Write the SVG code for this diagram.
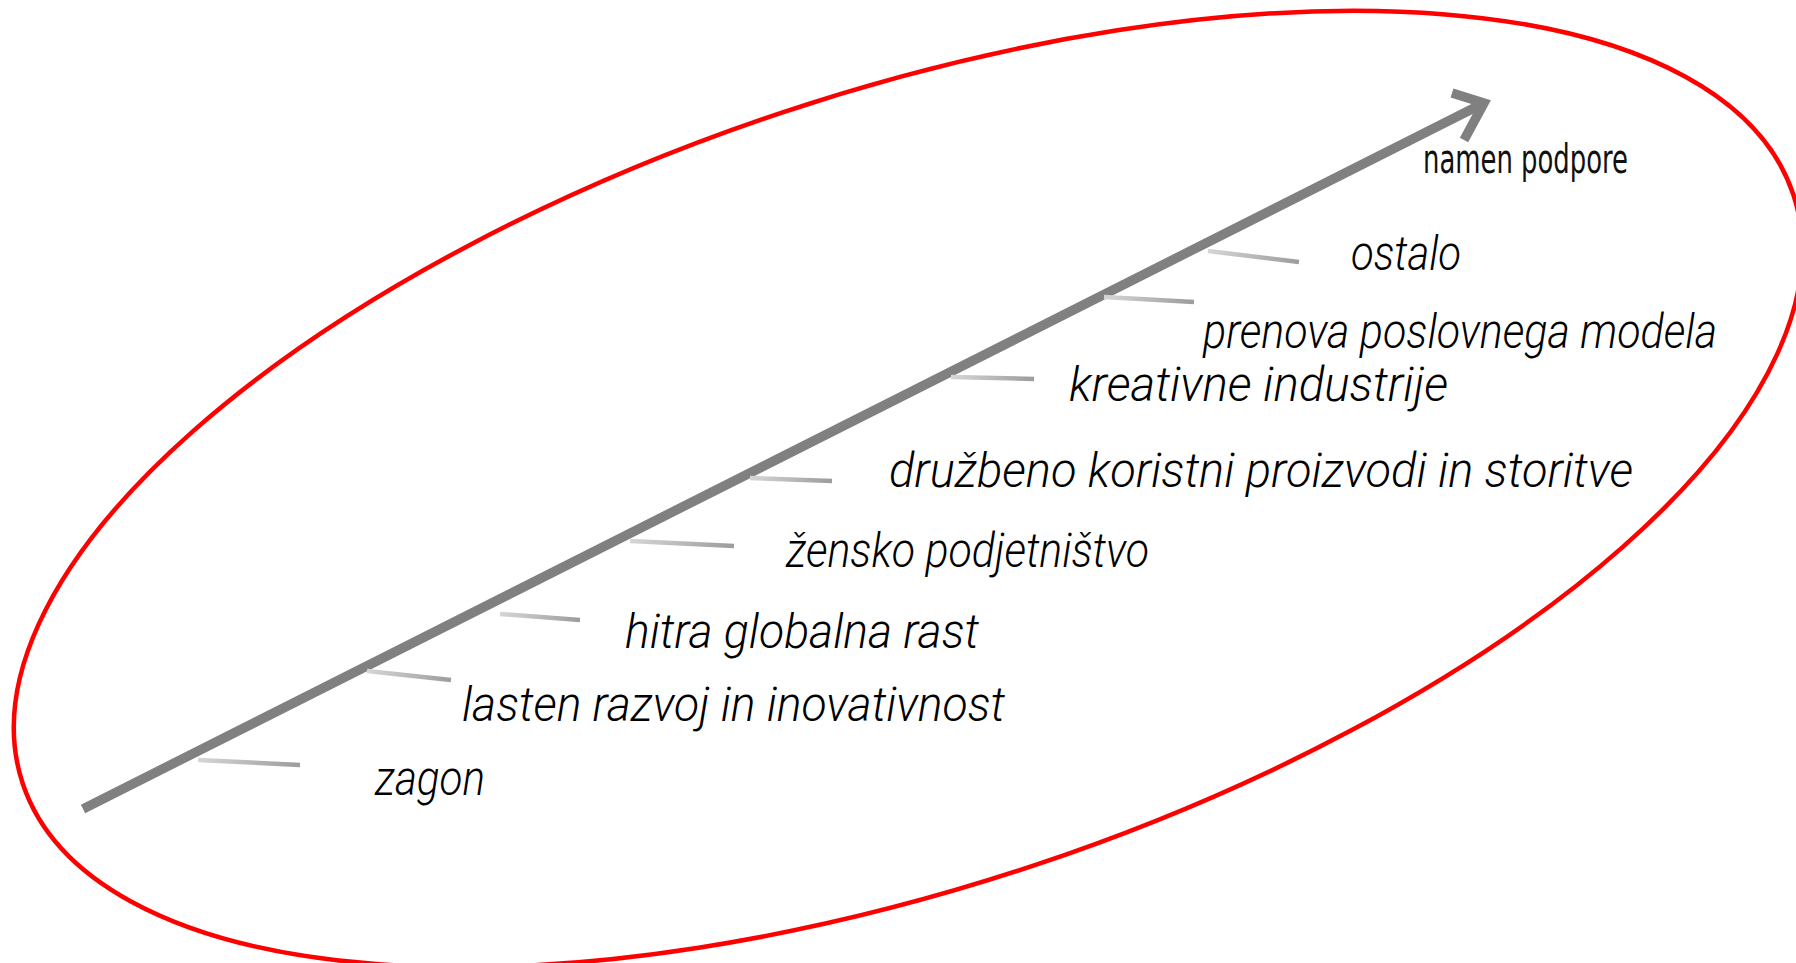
<svg xmlns="http://www.w3.org/2000/svg" width="1796" height="963" viewBox="0 0 1796 963">
<style>
.hand{font-family:Roboto,"DejaVu Sans Condensed","Liberation Sans",sans-serif;font-style:italic;font-weight:300;font-size:48px;fill:#000}
.title{font-family:"DejaVu Sans Condensed","Liberation Sans Narrow","Liberation Sans",sans-serif;font-size:40px;fill:#111}
.tick{stroke:url(#tg);stroke-width:4.5;fill:none}
.axis{stroke:#808080;stroke-width:9.5;fill:none;stroke-linecap:butt}
</style>
<defs>
<linearGradient id="tg" x1="0" y1="0" x2="1" y2="0">
<stop offset="0" stop-color="#d6d6d6"/>
<stop offset="1" stop-color="#9c9c9c"/>
</linearGradient>
</defs>
<rect width="1796" height="963" fill="#fff"/>
<g id="frame">
<ellipse cx="908" cy="489" rx="933" ry="397" transform="rotate(-18.4 908 489)" fill="none" stroke="#ff0000" stroke-width="4.5"/>
</g>
<g id="connectors">
<line class="axis" x1="83" y1="809" x2="1481" y2="104.5"/>
<polyline class="axis" points="1452,93 1484,103 1464,140" stroke-linejoin="miter"/>
<line class="tick" x1="198" y1="760" x2="300" y2="765"/>
<line class="tick" x1="367" y1="671" x2="451" y2="680"/>
<line class="tick" x1="500" y1="614" x2="580" y2="620"/>
<line class="tick" x1="630" y1="541" x2="734" y2="546"/>
<line class="tick" x1="750" y1="478" x2="832" y2="481"/>
<line class="tick" x1="951" y1="377" x2="1034" y2="379"/>
<line class="tick" x1="1104" y1="297" x2="1194" y2="302"/>
<line class="tick" x1="1208" y1="251" x2="1299" y2="262"/>
</g>
<g id="node-namen"><text class="title" x="1423" y="173" textLength="205" lengthAdjust="spacingAndGlyphs">namen podpore</text></g>
<g id="node-ostalo"><text class="hand" x="1351" y="270" textLength="110" lengthAdjust="spacingAndGlyphs">ostalo</text></g>
<g id="node-prenova"><text class="hand" x="1203" y="348" textLength="514" lengthAdjust="spacingAndGlyphs">prenova poslovnega modela</text></g>
<g id="node-kreativne"><text class="hand" x="1069" y="401" textLength="379" lengthAdjust="spacingAndGlyphs">kreativne industrije</text></g>
<g id="node-druzbeno"><text class="hand" x="889" y="487" textLength="744" lengthAdjust="spacingAndGlyphs">družbeno koristni proizvodi in storitve</text></g>
<g id="node-zensko"><text class="hand" x="786" y="567" textLength="363" lengthAdjust="spacingAndGlyphs">žensko podjetništvo</text></g>
<g id="node-hitra"><text class="hand" x="625" y="648" textLength="354" lengthAdjust="spacingAndGlyphs">hitra globalna rast</text></g>
<g id="node-lasten"><text class="hand" x="462" y="721" textLength="543" lengthAdjust="spacingAndGlyphs">lasten razvoj in inovativnost</text></g>
<g id="node-zagon"><text class="hand" x="375" y="795" textLength="110" lengthAdjust="spacingAndGlyphs">zagon</text></g>
</svg>
